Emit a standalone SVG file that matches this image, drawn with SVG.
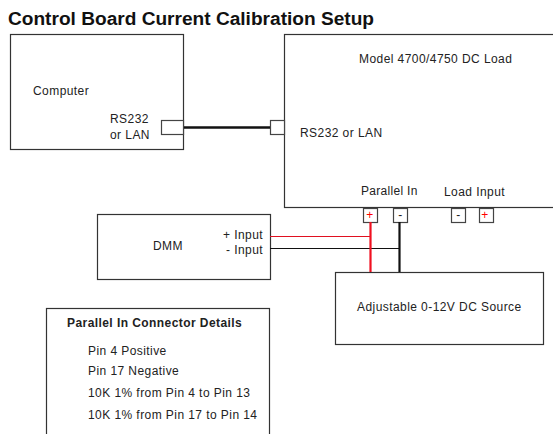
<svg xmlns="http://www.w3.org/2000/svg" width="553" height="434" viewBox="0 0 553 434">
<style>
text{font-family:"Liberation Sans",Arial,sans-serif;font-size:12px;letter-spacing:.43px;fill:#222}
.b{fill:#fff;stroke:#333;stroke-width:1.2}
.p{fill:#fff;stroke:#444;stroke-width:1.2}
.m{text-anchor:middle}
.e{text-anchor:end}
.r{fill:#f00}
</style>
<rect width="553" height="434" fill="#fff"/>
<text id="title" x="8" y="25" style="font-size:19.100px;letter-spacing:0;font-weight:bold;fill:#111">Control Board Current Calibration Setup</text>
<g id="computer">
<rect class="b" x="10.500" y="34.500" width="173" height="115"/>
<text x="33" y="95">Computer</text>
<text x="110" y="123">RS232</text>
<text x="110" y="139">or LAN</text>
<rect class="p" x="161.500" y="120.500" width="22" height="14"/>
</g>
<g id="load">
<rect class="b" x="284.500" y="34.500" width="280" height="173"/>
<text x="359" y="63">Model 4700/4750 DC Load</text>
<text x="300" y="137">RS232 or LAN</text>
<text x="361" y="195" style="letter-spacing:.3px">Parallel In</text>
<text x="444" y="196">Load Input</text>
<rect class="p" x="270.500" y="120.500" width="14" height="14"/>
</g>
<g id="pin-parallel-plus"><rect class="p" x="363.500" y="208.500" width="14" height="14"/><text class="m r" x="370" y="219">+</text></g>
<g id="pin-parallel-minus"><rect class="p" x="393.500" y="208.500" width="14" height="14"/><text class="m" x="400.500" y="219">-</text></g>
<g id="pin-load-minus"><rect class="p" x="451.500" y="208.500" width="14" height="14"/><text class="m" x="458.500" y="219">-</text></g>
<g id="pin-load-plus"><rect class="p" x="479.500" y="208.500" width="14" height="14"/><text class="m r" x="485" y="219">+</text></g>
<g id="dmm">
<rect class="b" x="97.500" y="214.500" width="173" height="65"/>
<text x="153" y="250">DMM</text>
<text class="e" x="263" y="239">+ Input</text>
<text class="e" x="263" y="254">- Input</text>
</g>
<g id="source">
<rect class="b" x="335.500" y="272.500" width="208" height="72"/>
<text x="357" y="311">Adjustable 0-12V DC Source</text>
</g>
<g id="details">
<rect class="b" x="46.500" y="308.500" width="223" height="135"/>
<text x="67" y="327" style="font-weight:bold">Parallel In Connector Details</text>
<text x="88" y="355">Pin 4 Positive</text>
<text x="88" y="375">Pin 17 Negative</text>
<text x="88" y="397">10K 1% from Pin 4 to Pin 13</text>
<text x="88" y="419">10K 1% from Pin 17 to Pin 14</text>
</g>
<g id="connectors" fill="none">
<path d="M184 127.500H270" stroke="#111" stroke-width="2.500"/>
<path d="M270 236.500H371" stroke="#e01020" stroke-width="1.200"/>
<path d="M270 248.500H400" stroke="#111" stroke-width="1.200"/>
<path d="M370.500 222V272" stroke="#f01020" stroke-width="2.200"/>
<path d="M399.500 222V272" stroke="#111" stroke-width="2.200"/>
</g>
</svg>
